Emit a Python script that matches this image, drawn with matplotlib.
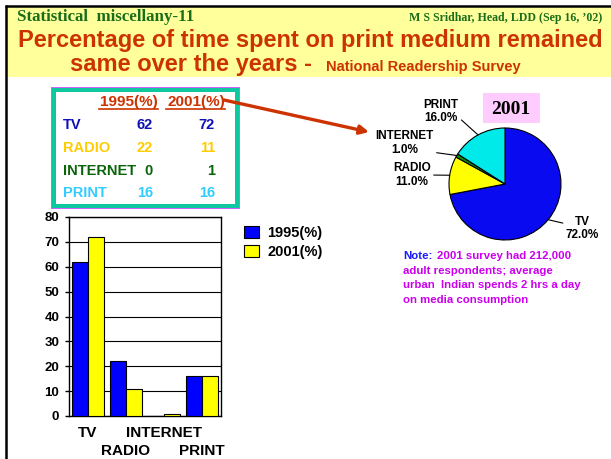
import matplotlib
matplotlib.use("Agg")
import matplotlib.pyplot as plt
from matplotlib.patches import Rectangle
import numpy as np

plt.rcParams['font.family'] = ['Liberation Sans', 'DejaVu Sans']

# data
media = ['TV', 'RADIO', 'INTERNET', 'PRINT']
years = ['1995(%)', '2001(%)']
pct_1995 = [62, 22, 0, 16]
pct_2001 = [72, 11, 1, 16]
media_colors = ['#1010B8', '#FFCC00', '#0A650A', '#33CCFF']
bar_colors = ['#0000FF', '#FFFF00']
pie_colors = ['#0A0AF0', '#FFFF00', '#128A12', '#00EAEA']
note_lines = ['2001 survey had 212,000', 'adult respondents; average',
              'urban  Indian spends 2 hrs a day', 'on media consumption']

W, H = 611, 459
fig = plt.figure(figsize=(W / 100, H / 100), dpi=100)
fig.patch.set_facecolor('white')

# background axes in pixel units (y down)
bg = fig.add_axes([0, 0, 1, 1])
bg.set_xlim(0, W)
bg.set_ylim(H, 0)
bg.axis('off')

# header band and black frame
bg.add_patch(Rectangle((6, 6), W - 6, 71, facecolor='#FFFF9C', edgecolor='none'))
bg.plot([5, W], [6, 6], color='black', lw=1.8, solid_capstyle='butt')
bg.plot([6, 6], [5, H], color='black', lw=1.8, solid_capstyle='butt')

red = '#CC3300'
green = '#1A6E1A'
bg.text(17, 21, 'Statistical  miscellany-11', family='Liberation Serif', weight='bold',
        fontsize=12.2, color=green, va='baseline', ha='left')
bg.text(602, 21, "M S Sridhar, Head, LDD (Sep 16, \u201902)", family='Liberation Serif',
        weight='bold', fontsize=8.6, color=green, va='baseline', ha='right')
bg.text(310, 47, 'Percentage of time spent on print medium remained', weight='bold',
        fontsize=17, color=red, va='baseline', ha='center')
bg.text(312, 71, 'same over the years -', weight='bold', fontsize=17, color=red,
        va='baseline', ha='right')
bg.text(326, 71, 'National Readership Survey', weight='bold', fontsize=10.5, color=red,
        va='baseline', ha='left')

# table box
bg.add_patch(Rectangle((51, 87), 189, 122, facecolor='#CC66FF', edgecolor='none'))
bg.add_patch(Rectangle((52, 88), 187, 120, facecolor='#10C8A0', edgecolor='none'))
bg.add_patch(Rectangle((56, 92), 179, 112, facecolor='white', edgecolor='none'))

col_x = [158, 225]
for x, yr in zip(col_x, years):
    bg.text(x, 102, yr, weight='bold', fontsize=11, color=red, ha='right', va='center')
    bg.plot([x - 59, x], [109, 109], color=red, lw=1.2)
row_y = [125, 148, 171, 193]
for name, a, b, c, y in zip(media, pct_1995, pct_2001, media_colors, row_y):
    bg.text(63, y, name, weight='bold', fontsize=10.5, color=c, ha='left', va='center')
    bg.text(153, y, str(a), weight='bold', fontsize=10.5, color=c, ha='right', va='center')
    bg.text(215, y, str(b), weight='bold', fontsize=10.5, color=c, ha='right', va='center')

# arrow from table to pie
bg.annotate('', xy=(369, 132), xytext=(224, 100),
            arrowprops=dict(arrowstyle='-|>', color=red, lw=2.4, mutation_scale=13,
                            shrinkA=0, shrinkB=0))

# 2001 tag
bg.add_patch(Rectangle((483, 93), 57, 30, facecolor='#FFCCFF', edgecolor='none'))
bg.text(511, 109, '2001', family='Liberation Serif', weight='bold', fontsize=14,
        color='black', ha='center', va='center')

# note
bg.text(403, 256, 'Note:', weight='bold', fontsize=8.2, color='#1A1AFF', va='center')
bg.text(437, 256, note_lines[0], weight='bold', fontsize=8.2, color='#CC00EE', va='center')
for i, line in enumerate(note_lines[1:]):
    bg.text(403, 271 + i * 14.3, line, weight='bold', fontsize=8.2, color='#CC00EE',
            va='center')

# bar chart
ax = fig.add_axes([69 / W, (H - 416) / H, 152 / W, 199 / H])
x = np.arange(len(media))
bw = 0.41
ax.bar(x - bw / 2, pct_1995, bw, color=bar_colors[0], edgecolor='black', lw=0.8,
       label=years[0], zorder=3)
ax.bar(x + bw / 2, pct_2001, bw, color=bar_colors[1], edgecolor='black', lw=0.8,
       label=years[1], zorder=3)
ax.set_xlim(-0.5, len(media) - 0.5)
ax.set_ylim(0, 80)
ax.set_yticks(range(0, 81, 10))
ax.yaxis.grid(True, color='black', lw=0.8)
ax.set_axisbelow(True)
for s in ax.spines.values():
    s.set_linewidth(1.0)
ax.tick_params(axis='y', length=3, width=1, pad=4, labelsize=9.5)
for t in ax.get_yticklabels():
    t.set_fontweight('bold')
ax.set_xticks(x[0::2], labels=media[0::2])
ax.set_xticks(x[1::2], labels=media[1::2], minor=True)
ax.tick_params(axis='x', which='major', length=0, pad=7, labelsize=11)
ax.tick_params(axis='x', which='minor', length=0, pad=20, labelsize=11)
for t in ax.get_xticklabels() + ax.get_xticklabels(minor=True):
    t.set_fontweight('bold')

leg = ax.legend(loc='upper left', bbox_to_anchor=(244, 226), bbox_transform=bg.transData,
                frameon=False, borderpad=0, borderaxespad=0, handlelength=1.05,
                handleheight=0.9, handletextpad=0.55, labelspacing=0.35,
                prop=dict(weight='bold', size=10.5))

# pie chart
cx, cy, r = 505, 184, 56
pax = fig.add_axes([(cx - r) / W, (H - cy - r) / H, 2 * r / W, 2 * r / H])
wedges, _ = pax.pie(pct_2001, colors=pie_colors, startangle=90, counterclock=False,
                    wedgeprops=dict(edgecolor='black', lw=0.8))
pax.set_xlim(-1, 1)
pax.set_ylim(-1, 1)
label_pos = [(1.38, -0.8), (-1.66, 0.16), (-1.79, 0.73), (-1.14, 1.29)]
rel = [(0, 0.7), (1, 0.5), (0.8, 0.2), (0.9, 0.4)]
for w, name, v, pos, rp in zip(wedges, media, pct_2001, label_pos, rel):
    ang = np.deg2rad((w.theta1 + w.theta2) / 2)
    pax.annotate(f'{name}\n{v:.1f}%', xy=(np.cos(ang), np.sin(ang)), xytext=pos,
                 ha='center', va='center', multialignment='center', weight='bold',
                 fontsize=8.5, linespacing=1.15, annotation_clip=False,
                 arrowprops=dict(arrowstyle='-', color='black', lw=0.8, shrinkA=0,
                                 shrinkB=0, relpos=rp))

fig.savefig('out.png', dpi=100)
